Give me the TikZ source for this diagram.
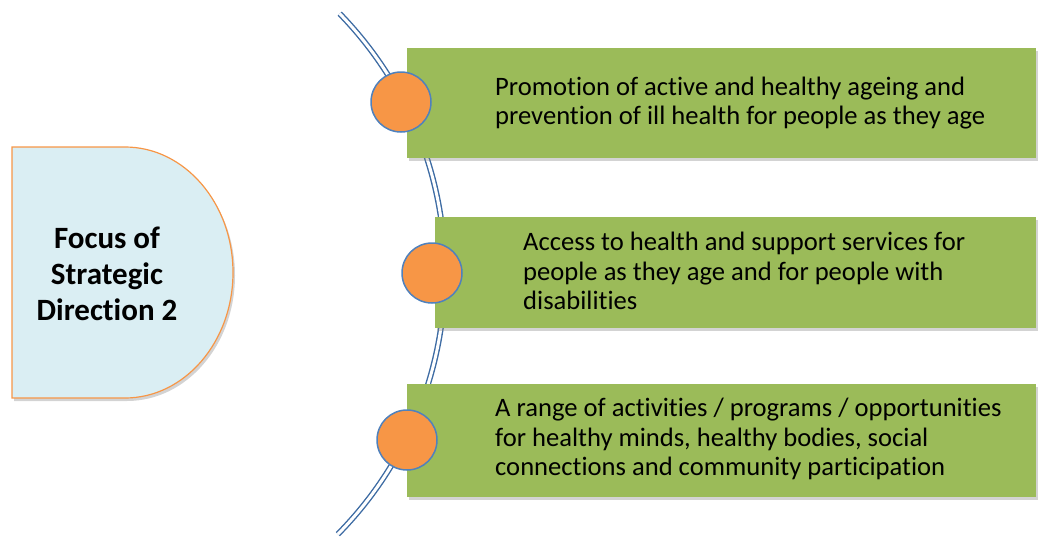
\documentclass[tikz,border=0pt]{standalone}
\usepackage{fontspec}
\setmainfont{Carlito}[Ligatures={NoCommon,NoContextual}]
\usetikzlibrary{shadows}
\definecolor{boxgreen}{HTML}{9BBB59}
\definecolor{dotorange}{HTML}{F79646}
\definecolor{dotblue}{HTML}{4F81BD}
\definecolor{arcblue}{HTML}{3D6BA3}
\definecolor{focusblue}{HTML}{DAEEF3}
\tikzset{
  greenbox/.style={fill=boxgreen, draw=none, drop shadow={opacity=0.35, shadow xshift=2pt, shadow yshift=-3pt}},
  dot/.style={circle, fill=dotorange, draw=dotblue, line width=1.5pt, minimum size=60pt, inner sep=0pt},
  boxtext/.style={anchor=west, align=left, inner sep=0pt, font=\fontsize{26.6}{29.5}\selectfont, text=black},
  arcline/.style={draw=arcblue, line width=1.4pt, double=white, double distance=3pt},
}
\begin{document}
\begin{tikzpicture}[x=1pt,y=-1pt]
\useasboundingbox (0,0) rectangle (1038,538);
% left shape
\path[fill=focusblue, draw=dotorange, line width=1.2pt, drop shadow={opacity=0.35, shadow xshift=2pt, shadow yshift=-3pt}]
  (12,147) -- (125,147) arc[start angle=-90, end angle=90, x radius=108, y radius=125.5] -- (12,398) -- cycle;
\node[align=center, font=\bfseries\fontsize{31}{36}\selectfont] (focus) at (107,274) {Focus of\\Strategic\\Direction 2};
% arc
\coordinate (arcc) at (73,273);
\draw[arcline] (arcc) ++(-44.2:372) coordinate (arctop) arc[start angle=-44.2, end angle=44.6, radius=372] coordinate (arcbot);
% boxes
\path[greenbox] (407,48) rectangle (1036,158) coordinate (b1);
\path[greenbox] (435,217) rectangle (1036,328) coordinate (b2);
\path[greenbox] (407,384) rectangle (1036,497) coordinate (b3);
% circles
\node[dot] (c1) at (401,102) {};
\node[dot] (c2) at (432,273) {};
\node[dot] (c3) at (407,440) {};
% texts
\node[boxtext] (t1) at (495,103) {Promotion of active and healthy ageing and\\prevention of ill health for people as they age};
\node[boxtext] (t2) at (523,271) {Access to health and support services for\\people as they age and for people with\\disabilities};
\node[boxtext] (t3) at (495,439) {A range of activities / programs / opportunities\\for healthy minds, healthy bodies, social\\connections and community participation};
\end{tikzpicture}
\end{document}
